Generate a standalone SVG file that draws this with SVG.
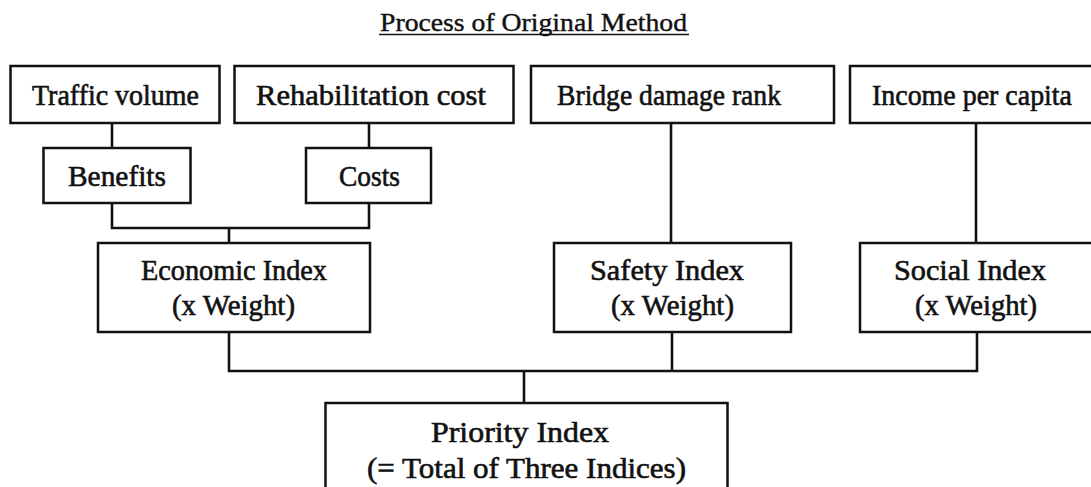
<svg xmlns="http://www.w3.org/2000/svg" width="1091" height="487" viewBox="0 0 1091 487">
  <style>
    .box { fill: #ffffff; stroke: #111111; stroke-width: 2.5; }
    .wire { fill: none; stroke: #111111; stroke-width: 2.6; }
    .lbl { font-family: "Liberation Serif", "Times New Roman", serif; font-size: 29px; fill: #111111; stroke: #111111; stroke-width: 0.6; }
    .title { font-family: "Liberation Serif", "Times New Roman", serif; font-size: 26px; fill: #111111; stroke: #111111; stroke-width: 0.4; }
  </style>
  <rect width="1091" height="487" fill="#ffffff"/>

  <!-- heading -->
  <g id="title">
    <text class="title" x="380" y="31" textLength="307" lengthAdjust="spacingAndGlyphs">Process of Original Method</text>
    <line x1="379" y1="34.5" x2="689" y2="34.5" stroke="#111111" stroke-width="1.6"/>
  </g>

  <!-- connectors -->
  <g id="connectors">
    <line class="wire" x1="112" y1="123" x2="112" y2="148"/>
    <line class="wire" x1="369" y1="123" x2="369" y2="148"/>
    <polyline class="wire" points="112,203 112,228 369,228 369,203"/>
    <line class="wire" x1="229" y1="228" x2="229" y2="243"/>
    <line class="wire" x1="671" y1="123" x2="671" y2="243"/>
    <line class="wire" x1="976" y1="123" x2="976" y2="243"/>
    <polyline class="wire" points="229,332 229,371 977,371 977,332"/>
    <line class="wire" x1="672" y1="332" x2="672" y2="371"/>
    <line class="wire" x1="524" y1="371" x2="524" y2="403"/>
  </g>

  <!-- input data -->
  <g id="traffic-volume">
    <rect class="box" x="10.5" y="66" width="209" height="57"/>
    <text class="lbl" x="32" y="105" textLength="167" lengthAdjust="spacingAndGlyphs">Traffic volume</text>
  </g>
  <g id="rehabilitation-cost">
    <rect class="box" x="234.5" y="66" width="279" height="57"/>
    <text class="lbl" x="256" y="105" textLength="230" lengthAdjust="spacingAndGlyphs">Rehabilitation cost</text>
  </g>
  <g id="bridge-damage-rank">
    <rect class="box" x="531" y="66" width="303" height="57"/>
    <text class="lbl" x="557" y="105" textLength="224" lengthAdjust="spacingAndGlyphs">Bridge damage rank</text>
  </g>
  <g id="income-per-capita">
    <rect class="box" x="850" y="66" width="245" height="57"/>
    <text class="lbl" x="872" y="105" textLength="200" lengthAdjust="spacingAndGlyphs">Income per capita</text>
  </g>

  <!-- intermediate items -->
  <g id="benefits">
    <rect class="box" x="43.5" y="148" width="147" height="55"/>
    <text class="lbl" x="68" y="186" textLength="98" lengthAdjust="spacingAndGlyphs">Benefits</text>
  </g>
  <g id="costs">
    <rect class="box" x="306" y="148" width="125" height="55"/>
    <text class="lbl" x="339" y="186" textLength="61" lengthAdjust="spacingAndGlyphs">Costs</text>
  </g>

  <!-- weighted indices -->
  <g id="economic-index">
    <rect class="box" x="98" y="243" width="272" height="89"/>
    <text class="lbl" x="141" y="280" textLength="186" lengthAdjust="spacingAndGlyphs">Economic Index</text>
    <text class="lbl" x="172" y="315" textLength="123" lengthAdjust="spacingAndGlyphs">(x Weight)</text>
  </g>
  <g id="safety-index">
    <rect class="box" x="554" y="243" width="237" height="89"/>
    <text class="lbl" x="590" y="280" textLength="154" lengthAdjust="spacingAndGlyphs">Safety Index</text>
    <text class="lbl" x="611" y="315" textLength="123" lengthAdjust="spacingAndGlyphs">(x Weight)</text>
  </g>
  <g id="social-index">
    <rect class="box" x="860" y="243" width="235" height="89"/>
    <text class="lbl" x="894" y="280" textLength="152" lengthAdjust="spacingAndGlyphs">Social Index</text>
    <text class="lbl" x="915" y="315" textLength="122" lengthAdjust="spacingAndGlyphs">(x Weight)</text>
  </g>

  <!-- result -->
  <g id="priority-index">
    <rect class="box" x="325.5" y="403" width="402" height="95"/>
    <text class="lbl" x="431" y="442" textLength="178" lengthAdjust="spacingAndGlyphs">Priority Index</text>
    <text class="lbl" x="367" y="478" textLength="319" lengthAdjust="spacingAndGlyphs">(= Total of Three Indices)</text>
  </g>
</svg>
